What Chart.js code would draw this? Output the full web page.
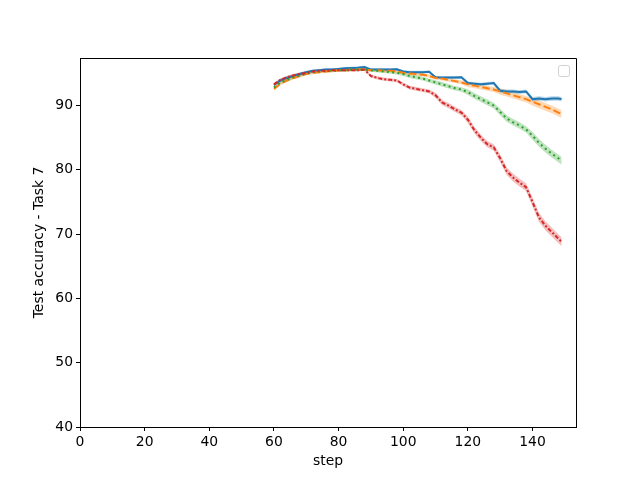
<!DOCTYPE html>
<html>
<head>
<meta charset="utf-8">
<script src="https://cdn.jsdelivr.net/npm/chart.js@4.4.0/dist/chart.umd.min.js"></script>
<style>
  html, body { margin: 0; background: #fff; }
</style>
</head>
<body>
<canvas id="chart" width="640" height="480"></canvas>
<script>
// ── Data ──────────────────────────────────────────────────────────────────────

const steps = [60, 62, 64, 66, 68, 70, 72, 74, 76, 78, 80, 82, 84, 86, 88, 90, 92, 94, 96, 98,
  100, 102, 104, 106, 108, 110, 112, 114, 116, 118, 120, 122, 124, 126, 128, 130, 132, 134, 136, 138,
  140, 142, 144, 146, 148, 149];

const accBlue = [93.2, 93.9, 94.3, 94.6, 94.9, 95.2, 95.4, 95.5, 95.6, 95.6, 95.7, 95.8, 95.85, 95.9, 96.0,
  95.6, 95.6, 95.6, 95.6, 95.65, 95.3, 95.2, 95.2, 95.2, 95.25, 94.4, 94.35, 94.35, 94.35, 94.4,
  93.5, 93.4, 93.3, 93.4, 93.5, 92.3, 92.2, 92.2, 92.1, 92.2, 91.0, 91.1, 91.0, 91.1, 91.1, 91.0];

const accOrange = [92.6, 93.4, 93.9, 94.3, 94.6, 94.9, 95.1, 95.2, 95.3, 95.4, 95.5, 95.5, 95.6, 95.6, 95.6,
  95.5, 95.5, 95.4, 95.4, 95.3, 95.1, 95.0, 94.9, 94.8, 94.6, 94.3, 94.2, 94.0, 93.8, 93.6,
  93.3, 93.1, 92.9, 92.7, 92.5, 92.2, 91.9, 91.6, 91.3, 91.0, 90.6, 90.2, 89.8, 89.4, 88.9, 88.7];

const accGreen = [92.8, 93.6, 94.0, 94.4, 94.7, 95.0, 95.2, 95.3, 95.4, 95.4, 95.5, 95.5, 95.6, 95.6, 95.6,
  95.5, 95.4, 95.3, 95.2, 95.1, 94.9, 94.6, 94.4, 94.2, 93.9, 93.6, 93.3, 93.0, 92.7, 92.5,
  92.1, 91.5, 91.0, 90.5, 90.0, 89.0, 88.0, 87.4, 86.9, 86.3, 85.3, 84.2, 83.3, 82.5, 81.8, 81.4];

const accRed = [93.3, 94.0, 94.4, 94.7, 94.9, 95.1, 95.3, 95.4, 95.4, 95.5, 95.5, 95.5, 95.5, 95.5, 95.6,
  94.6, 94.3, 94.1, 94.0, 93.9, 93.3, 92.8, 92.6, 92.4, 92.2, 91.6, 90.5, 90.0, 89.4, 88.9,
  87.8, 86.2, 85.0, 84.0, 83.5, 81.8, 79.8, 78.8, 78.0, 77.3, 75.0, 72.6, 71.3, 70.3, 69.3, 68.8];

// half-width of the shaded band, one value per decade of steps (60s … 140s)
const spreadBlue   = [0.25, 0.2, 0.2, 0.2, 0.2, 0.2, 0.25, 0.3, 0.35];
const spreadOrange = [0.25, 0.2, 0.2, 0.2, 0.25, 0.3, 0.4, 0.5, 0.6];
const spreadGreen  = [0.25, 0.2, 0.2, 0.25, 0.3, 0.35, 0.45, 0.5, 0.6];
const spreadRed    = [0.25, 0.2, 0.2, 0.25, 0.3, 0.4, 0.5, 0.6, 0.7];

const xTicks = [0, 20, 40, 60, 80, 100, 120, 140];
const yTicks = [40, 50, 60, 70, 80, 90];

// ── Helpers ───────────────────────────────────────────────────────────────────

const pts = vals => steps.map((s, i) => ({ x: s, y: vals[i] }));
const band = (vals, spread, sign) =>
  steps.map((s, i) => ({ x: s, y: vals[i] + sign * spread[Math.min(8, Math.floor((s - 60) / 10))] }));

function series(vals, spread, color, fillColor, dash) {
  return [
    { data: band(vals, spread, 1), borderWidth: 0, pointRadius: 0, fill: false, order: 10 },
    { data: band(vals, spread, -1), borderWidth: 0, pointRadius: 0, fill: '-1',
      backgroundColor: fillColor, order: 10 },
    { data: pts(vals), borderColor: color, borderWidth: 2, borderDash: dash, pointRadius: 0,
      fill: false, tension: 0 },
  ];
}

const blue = series(accBlue, spreadBlue, '#1f77b4', 'rgba(31,119,180,0.3)', []);
const orange = series(accOrange, spreadOrange, '#ff7f0e', 'rgba(255,127,14,0.3)', [7.5, 3.2]);
const green = series(accGreen, spreadGreen, '#2ca02c', 'rgba(44,160,44,0.3)', [2, 3.3]);
const red = series(accRed, spreadRed, '#d62728', 'rgba(214,39,40,0.3)', [4, 2, 2, 2]);
blue[2].order = 4; orange[2].order = 3; green[2].order = 2; red[2].order = 1;

// ── Frame + empty legend box ──────────────────────────────────────────────────

const framePlugin = {
  id: 'frame',
  afterDraw(chart) {
    const { ctx, chartArea: a } = chart;
    ctx.save();
    ctx.strokeStyle = '#000';
    ctx.lineWidth = 1;
    ctx.beginPath();
    ctx.moveTo(a.left, a.top + 0.5);
    ctx.lineTo(a.right + 0.5, a.top + 0.5);
    ctx.lineTo(a.right + 0.5, a.bottom);
    ctx.stroke();
    // matplotlib's legend with no handles: a small empty rounded box
    const x = a.right - 18, y = a.top + 7, w = 11, h = 11, r = 2;
    ctx.fillStyle = 'rgba(255,255,255,0.8)';
    ctx.strokeStyle = '#d0d0d0';
    ctx.beginPath();
    ctx.roundRect(x + 0.5, y + 0.5, w, h, r);
    ctx.fill();
    ctx.stroke();
    ctx.restore();
  }
};

const tickFont = { family: 'DejaVu Sans', size: 13.9 };

new Chart(document.getElementById('chart'), {
  type: 'line',
  data: { datasets: [...blue, ...orange, ...green, ...red] },
  options: {
    responsive: false,
    animation: false,
    layout: { padding: { left: 0, right: 64, top: 58, bottom: 0 } },
    plugins: { legend: { display: false }, tooltip: { enabled: false } },
    scales: {
      x: {
        type: 'linear',
        min: 0, max: 153.45,
        afterBuildTicks: s => { s.ticks = xTicks.map(v => ({ value: v })); },
        afterFit: s => { s.height = 53; },
        ticks: { color: '#000', font: tickFont, padding: 3, maxRotation: 0 },
        grid: { drawOnChartArea: false, drawTicks: true, tickLength: 4, color: '#000' },
        border: { display: true, color: '#000' },
        title: { display: true, text: 'step', color: '#000', font: tickFont, padding: { top: 0, bottom: 10 } },
      },
      y: {
        type: 'linear',
        min: 40, max: 97.4,
        afterBuildTicks: s => { s.ticks = yTicks.map(v => ({ value: v })); },
        afterFit: s => { s.width = 80; },
        ticks: { color: '#000', font: tickFont, padding: 3 },
        grid: { drawOnChartArea: false, drawTicks: true, tickLength: 4, color: '#000' },
        border: { display: true, color: '#000' },
        title: { display: true, text: 'Test accuracy - Task 7', color: '#000', font: tickFont,
          padding: { top: 31, bottom: 0 } },
      },
    },
  },
  plugins: [framePlugin],
});
</script>
</body>
</html>
